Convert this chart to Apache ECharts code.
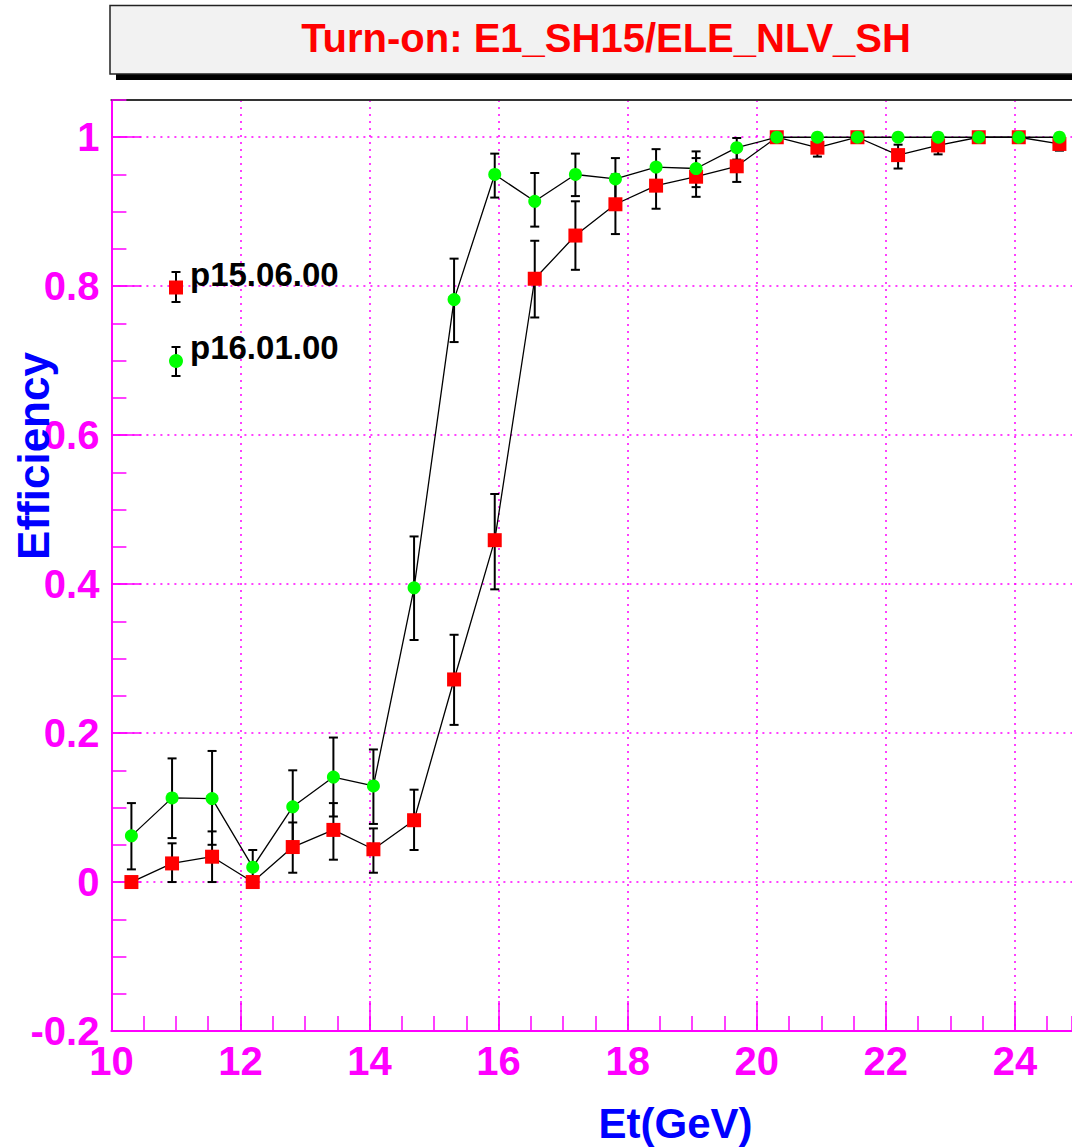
<!DOCTYPE html>
<html>
<head>
<meta charset="utf-8">
<script src="https://cdn.jsdelivr.net/npm/echarts@6/dist/echarts.min.js"></script>
<style>
html,body{margin:0;padding:0;background:#fff;}
#chart{width:1072px;height:1148px;}
</style>
</head>
<body>
<div id="chart"></div>
<script>
// ---- data ----
const titleText = 'Turn-on: E1_SH15/ELE_NLV_SH';
const xTitle = 'Et(GeV)';
const yTitle = 'Efficiency';
const seriesNames = ['p15.06.00', 'p16.01.00'];

const etBins = [10.31, 10.94, 11.56, 12.19, 12.81, 13.44, 14.06, 14.69, 15.31, 15.94, 16.56, 17.19,
                17.81, 18.44, 19.06, 19.69, 20.31, 20.94, 21.56, 22.19, 22.81, 23.44, 24.06, 24.69];

const effA   = [0.000, 0.025, 0.034, 0.000, 0.047, 0.070, 0.044, 0.083, 0.272, 0.459, 0.810, 0.868,
                0.910, 0.935, 0.947, 0.961, 1.000, 0.986, 1.000, 0.976, 0.989, 1.000, 1.000, 0.991];
const effALo = [0.000, 0.000, 0.000, 0.000, 0.0125, 0.030, 0.0125, 0.043, 0.211, 0.393, 0.758, 0.822,
                0.870, 0.904, 0.920, 0.940, 1.000, 0.974, 1.000, 0.958, 0.977, 1.000, 1.000, 0.982];
const effAHi = [0.000, 0.052, 0.068, 0.006, 0.080, 0.106, 0.072, 0.124, 0.332, 0.521, 0.861, 0.914,
                0.950, 0.963, 0.972, 0.982, 1.000, 0.995, 1.000, 0.990, 0.997, 1.000, 1.000, 0.998];

const effB   = [0.062, 0.113, 0.112, 0.020, 0.101, 0.141, 0.129, 0.395, 0.782, 0.950, 0.914, 0.950,
                0.944, 0.960, 0.958, 0.986, 1.000, 1.000, 1.000, 1.000, 1.000, 1.000, 1.000, 1.000];
const effBLo = [0.017, 0.059, 0.050, 0.000, 0.052, 0.088, 0.078, 0.325, 0.725, 0.919, 0.880, 0.921,
                0.915, 0.935, 0.933, 0.970, 1.000, 1.000, 1.000, 1.000, 1.000, 1.000, 1.000, 1.000];
const effBHi = [0.106, 0.166, 0.176, 0.043, 0.150, 0.194, 0.178, 0.464, 0.837, 0.978, 0.952, 0.978,
                0.972, 0.984, 0.981, 0.999, 1.000, 1.000, 1.000, 1.000, 1.000, 1.000, 1.000, 1.000];

// visible x range (the frame continues past the right edge of the picture)
const X_MIN = 10, X_MAX = 24.885;
const Y_MIN = -0.2, Y_MAX = 1.05;

// ---- build ----
const FONT = '"Liberation Sans", Arial, Helvetica, sans-serif';
const MAG = '#ff00ff';

function pts(xs, ys) { return xs.map((x, i) => [x, ys[i]]); }
function errs(xs, lo, hi) { return xs.map((x, i) => [x, lo[i], hi[i]]); }

function errRender(params, api) {
  const x = api.value(0), lo = api.value(1), hi = api.value(2);
  if (!(hi - lo > 0)) return null;
  const a = api.coord([x, hi]), b = api.coord([x, lo]);
  const w = 4.5;
  const st = { stroke: '#000', lineWidth: 2 };
  return {
    type: 'group',
    children: [
      { type: 'line', shape: { x1: a[0], y1: a[1], x2: b[0], y2: b[1] }, style: st },
      { type: 'line', shape: { x1: a[0] - w, y1: a[1], x2: a[0] + w, y2: a[1] }, style: st },
      { type: 'line', shape: { x1: b[0] - w, y1: b[1], x2: b[0] + w, y2: b[1] }, style: st }
    ]
  };
}

const chart = echarts.init(document.getElementById('chart'), null, { renderer: 'svg' });

const errStyle = { stroke: '#000', lineWidth: 2 };

const option = {
  animation: false,
  backgroundColor: '#ffffff',
  grid: { left: 111.4, right: 0, top: 100, bottom: 117, containLabel: false },
  xAxis: [
    {
      type: 'value', min: X_MIN, max: X_MAX, interval: 2, position: 'bottom',
      axisLine: { show: true, onZero: false, lineStyle: { color: MAG, width: 2 } },
      axisTick: { show: true, inside: true, length: 30, lineStyle: { color: MAG, width: 1.5 } },
      axisLabel: { show: true, showMaxLabel: false, margin: 10, color: MAG,
                   fontFamily: FONT, fontWeight: 'bold', fontSize: 40 },
      splitLine: { show: true, showMaxLine: false, lineStyle: { color: MAG, width: 1.5, type: [2, 5] } }
    },
    {
      type: 'value', min: X_MIN, max: X_MAX, interval: 0.5, position: 'bottom',
      axisLine: { show: false, onZero: false },
      axisTick: { show: true, inside: true, length: 15, lineStyle: { color: MAG, width: 1.5 } },
      axisLabel: { show: false },
      splitLine: { show: false }
    },
    {
      type: 'value', min: X_MIN, max: X_MAX, position: 'top',
      axisLine: { show: true, onZero: false, lineStyle: { color: '#333', width: 2 } },
      axisTick: { show: false }, axisLabel: { show: false }, splitLine: { show: false }
    }
  ],
  yAxis: [
    {
      type: 'value', min: Y_MIN, max: Y_MAX, interval: 0.2, position: 'left',
      axisLine: { show: true, onZero: false, lineStyle: { color: MAG, width: 2 } },
      axisTick: { show: true, inside: true, length: 30, lineStyle: { color: MAG, width: 1.5 } },
      axisLabel: { show: true, showMaxLabel: false, margin: 12, color: MAG,
                   fontFamily: FONT, fontWeight: 'bold', fontSize: 40 },
      splitLine: { show: true, lineStyle: { color: MAG, width: 1.5, type: [2, 5] } }
    },
    {
      type: 'value', min: Y_MIN, max: Y_MAX, interval: 0.05, position: 'left',
      axisLine: { show: false, onZero: false },
      axisTick: { show: true, inside: true, length: 15, lineStyle: { color: MAG, width: 1.5 } },
      axisLabel: { show: false },
      splitLine: { show: false }
    }
  ],
  legend: {
    orient: 'vertical',
    left: 169, top: 257.5, padding: 0,
    itemWidth: 14, itemHeight: 14, itemGap: 10,
    data: [
      { name: seriesNames[0], icon: 'rect' },
      { name: seriesNames[1], icon: 'circle' }
    ],
    formatter: function (name) { return '{t|' + name + '}\n{s| }'; },
    textStyle: {
      color: '#000', fontFamily: FONT, fontWeight: 'bold', fontSize: 33,
      rich: {
        t: { color: '#000', fontFamily: FONT, fontWeight: 'bold', fontSize: 33, lineHeight: 40, padding: [0, 0, 0, 2] },
        s: { fontSize: 10, lineHeight: 27, height: 27 }
      }
    },
    selectedMode: false
  },
  graphic: [
    { type: 'rect', z: 0, shape: { x: 116, y: 11, width: 990, height: 69 }, style: { fill: '#000' } },
    { type: 'rect', z: 1, shape: { x: 110, y: 5.5, width: 990, height: 68.5 },
      style: { fill: '#f2f2f2', stroke: '#222', lineWidth: 1.5 } },
    { type: 'text', z: 2, x: 606, y: 38,
      style: { text: titleText, fill: '#ff0000', font: 'bold 40px ' + FONT,
               textAlign: 'center', textVerticalAlign: 'middle' } },
    { type: 'text', z: 2, x: 675.5, y: 1123,
      style: { text: xTitle, fill: '#0000ff', font: 'bold 42px ' + FONT,
               textAlign: 'center', textVerticalAlign: 'middle' } },
    { type: 'text', z: 2, x: 33, y: 456, rotation: Math.PI / 2,
      style: { text: yTitle, fill: '#0000ff', font: 'bold 44px ' + FONT,
               textAlign: 'center', textVerticalAlign: 'middle' } },
    // error bars drawn on the legend symbols
    { type: 'group', z: 1, children: [
      { type: 'line', shape: { x1: 176, y1: 272, x2: 176, y2: 302 }, style: errStyle },
      { type: 'line', shape: { x1: 171.5, y1: 272, x2: 180.5, y2: 272 }, style: errStyle },
      { type: 'line', shape: { x1: 171.5, y1: 302, x2: 180.5, y2: 302 }, style: errStyle },
      { type: 'line', shape: { x1: 176, y1: 347, x2: 176, y2: 376 }, style: errStyle },
      { type: 'line', shape: { x1: 171.5, y1: 347, x2: 180.5, y2: 347 }, style: errStyle },
      { type: 'line', shape: { x1: 171.5, y1: 376, x2: 180.5, y2: 376 }, style: errStyle }
    ] }
  ],
  series: [
    {
      name: seriesNames[0] + ' errors', type: 'custom', z: 2,
      renderItem: errRender, data: errs(etBins, effALo, effAHi),
      encode: { x: 0, y: [1, 2] }, silent: true
    },
    {
      name: seriesNames[1] + ' errors', type: 'custom', z: 2,
      renderItem: errRender, data: errs(etBins, effBLo, effBHi),
      encode: { x: 0, y: [1, 2] }, silent: true
    },
    {
      name: seriesNames[0], type: 'line', z: 3,
      data: pts(etBins, effA),
      symbol: 'rect', symbolSize: 14, showAllSymbol: true,
      itemStyle: { color: '#ff0000', borderWidth: 0 },
      lineStyle: { color: '#000', width: 1.3 }
    },
    {
      name: seriesNames[1], type: 'line', z: 4,
      data: pts(etBins, effB),
      symbol: 'circle', symbolSize: 13, showAllSymbol: true,
      itemStyle: { color: '#00ff00', borderWidth: 0 },
      lineStyle: { color: '#000', width: 1.3 }
    }
  ]
};

chart.setOption(option);
</script>
</body>
</html>
